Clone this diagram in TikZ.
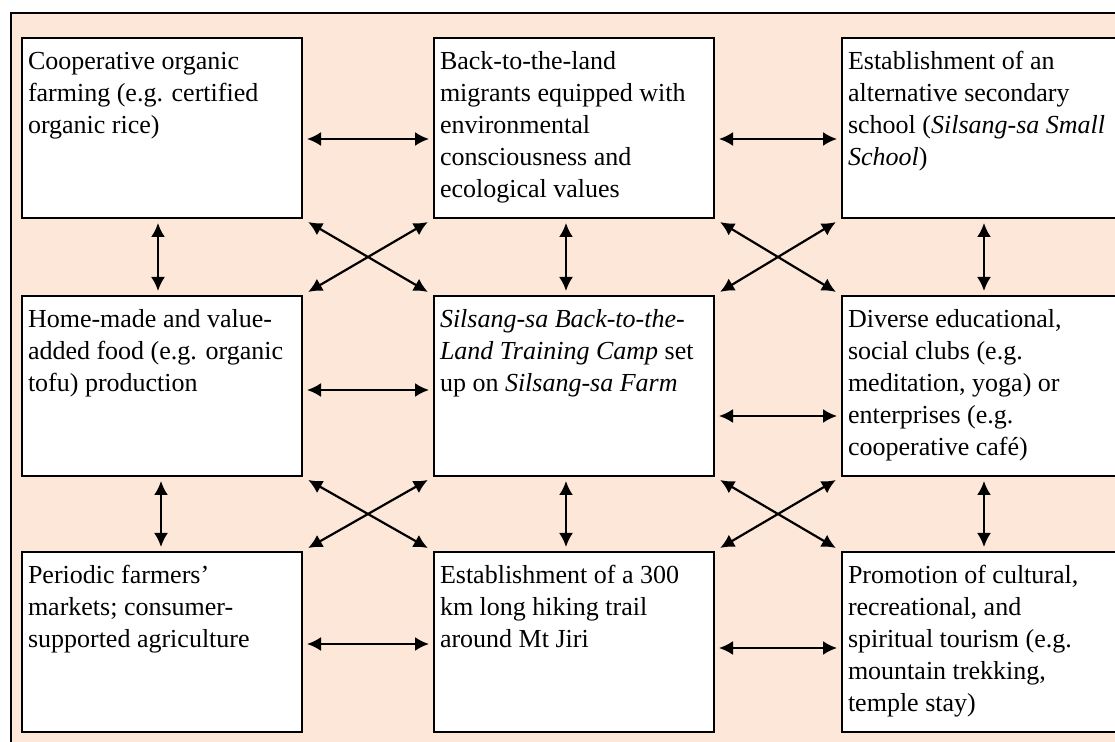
\documentclass[tikz,border=0pt]{standalone}
\usepackage{fontspec}
\setmainfont{Liberation Serif}
\usepackage{tikz}
\usetikzlibrary{positioning,arrows.meta}
\definecolor{peach}{RGB}{252,231,216}
\newcommand{\boxtext}[1]{\parbox[t][81pt][t]{134pt}{\strut#1}}
\tikzset{
box/.style={
  draw, 
  rectangle, 
  fill=white,
  line width=1pt,
  inner xsep=3pt,
  inner ysep=4.5pt,
  font=\fontsize{13pt}{16pt}\selectfont
  }, 
line/.style={<->,>={Latex[length=7pt,width=7pt]},line width=1.1pt,shorten <=2pt,shorten >=2pt},
cross/.style={line,shorten <=3pt,shorten >=3pt}
}

\begin{document}
\begin{tikzpicture}
\useasboundingbox (0,0) rectangle (557.5pt,-371pt);
\clip (0,0) rectangle (557.5pt,-371pt);
\draw[fill=peach, line width=1pt] (5.5pt,-6.5pt) rectangle (575pt,-385pt);
\node[box, anchor=north west](a) at (10.5pt,-18.5pt) {\boxtext{Cooperative organic\\farming (e.g. certified\\organic rice)}};
\node[box, right=65pt of a](b){\boxtext{Back-to-the-land\\migrants equipped with\\environmental\\consciousness and\\ecological values}};
\node[box, right=63pt of b](c){\boxtext{Establishment of an\\alternative secondary\\school (\textit{Silsang-sa Small}\\\textit{School})}};
\node[box, below=38pt of a](d){\boxtext{Home-made and value-\\added food (e.g. organic\\tofu) production}};
\node[box, right=65pt of d](e){\boxtext{\textit{Silsang-sa Back-to-the-}\\\textit{Land Training Camp} set\\up on \textit{Silsang-sa Farm}}};
\node[box, right=63pt of e](f){\boxtext{Diverse educational,\\social clubs (e.g.\\meditation, yoga) or\\enterprises (e.g.\\cooperative café)}};
\node[box, below=37pt of d](g){\boxtext{Periodic farmers’\\markets; consumer-\\supported agriculture}};
\node[box, right=65pt of g](h){\boxtext{Establishment of a 300\\km long hiking trail\\around Mt Jiri}};
\node[box, right=63pt of h](i){\boxtext{Promotion of cultural,\\recreational, and\\spiritual tourism (e.g.\\mountain trekking,\\temple stay)}};
% across
\draw[line] ([yshift=-5.5pt]a.east) -- ([yshift=-5.5pt]b.west);
\draw[line] ([yshift=-5.5pt]b.east) -- ([yshift=-5.5pt]c.west);
\draw[line] ([yshift=-2pt]d.east) -- ([yshift=-2pt]e.west);
\draw[line] ([yshift=-15pt]e.east) -- ([yshift=-15pt]f.west);
\draw[line] ([yshift=-1pt]g.east) -- ([yshift=-1pt]h.west);
\draw[line] ([yshift=-3pt]h.east) -- ([yshift=-3pt]i.west);
% down
\draw[line] ([xshift=-2pt]a.south) -- ([xshift=-2pt]d.north);
\draw[line] ([xshift=-0.5pt]d.south) -- ([xshift=-0.5pt]g.north);
\draw[line] ([xshift=-4pt]b.south) -- ([xshift=-4pt]e.north);
\draw[line] ([xshift=-4pt]e.south) -- ([xshift=-4pt]h.north);
\draw[line] ([xshift=1pt]c.south) -- ([xshift=1pt]f.north);
\draw[line] ([xshift=1pt]f.south) -- ([xshift=1pt]i.north);
% diagonals
\draw[cross] (a.south east) -- (e.north west);
\draw[cross] (d.north east) -- (b.south west);
\draw[cross] (b.south east) -- (f.north west);
\draw[cross] (e.north east) -- (c.south west);
\draw[cross] (d.south east) -- (h.north west);
\draw[cross] (g.north east) -- (e.south west);
\draw[cross] (e.south east) -- (i.north west);
\draw[cross] (h.north east) -- (f.south west);
\end{tikzpicture}
\end{document}
